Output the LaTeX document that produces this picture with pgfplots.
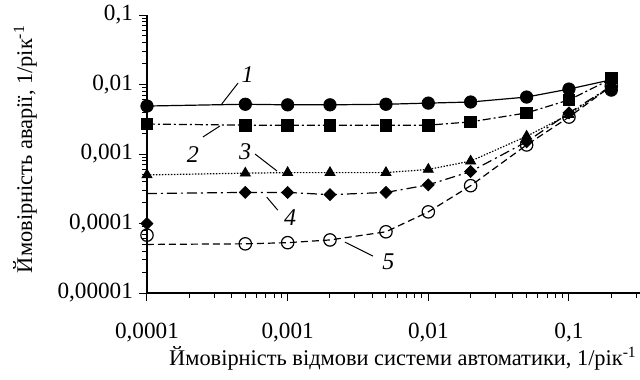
\documentclass[border=0pt]{standalone}
\usepackage{fontspec}
\setmainfont{Liberation Serif}
\usepackage{pgfplots}
\pgfplotsset{compat=1.18}
\begin{document}
\begin{tikzpicture}[font=\fontsize{11.2}{13}\selectfont]
\begin{axis}[
 at={(0pt,0pt)}, anchor=south west,
 scale only axis, width=246.5pt, height=139pt,
 xmode=log, ymode=log,
 xmin=1e-4, xmax=0.32, ymin=1e-5, ymax=0.1,
 axis x line*=bottom, axis y line*=left,
 axis line style={-, line width=0.6pt},
 tick align=outside, major tick length=4pt, minor tick length=2.3pt,
 every tick/.style={black, line width=0.5pt},
 tick label style={font=\fontsize{11.6}{13}\selectfont},
 xtick={1e-4,1e-3,1e-2,1e-1},
 xticklabels={{0,0001},{0,001},{0,01},{0,1}},
 ytick={1e-5,1e-4,1e-3,1e-2,1e-1},
 yticklabels={{0,00001},{0,0001},{0,001},{0,01},{0,1}},
 minor xtick={2e-4,3e-4,4e-4,5e-4,6e-4,7e-4,8e-4,9e-4,2e-3,3e-3,4e-3,5e-3,6e-3,7e-3,8e-3,9e-3,0.02,0.03,0.04,0.05,0.06,0.07,0.08,0.09,0.2,0.3},
 minor ytick={2e-5,3e-5,4e-5,5e-5,6e-5,7e-5,8e-5,9e-5,2e-4,3e-4,4e-4,5e-4,6e-4,7e-4,8e-4,9e-4,2e-3,3e-3,4e-3,5e-3,6e-3,7e-3,8e-3,9e-3,0.02,0.03,0.04,0.05,0.06,0.07,0.08,0.09},
 xticklabel style={yshift=-7.5pt},
 yticklabel style={xshift=0.5pt},
 clip=false,
]
% lines
\addplot[black, line width=0.6pt] coordinates {(1e-4,0.0049)(5e-4,0.0052)(1e-3,0.0051)(2e-3,0.0051)(5e-3,0.0052)(1e-2,0.0054)(2e-2,0.0056)(5e-2,0.0066)(0.1,0.0086)(0.2,0.0117)};
\addplot[black, line width=0.6pt, dash pattern=on 4pt off 1.5pt on 1pt off 1.5pt] coordinates {(1e-4,0.0027)(5e-4,0.0026)(1e-3,0.0026)(2e-3,0.0026)(5e-3,0.0026)(1e-2,0.0026)(2e-2,0.0029)(5e-2,0.0039)(0.1,0.0060)(0.2,0.0120)};
\addplot[black, line width=0.6pt, dash pattern=on 0.7pt off 0.8pt] coordinates {(1e-4,0.00050)(5e-4,0.00053)(1e-3,0.00054)(2e-3,0.00054)(5e-3,0.00054)(1e-2,0.00060)(2e-2,0.00079)(5e-2,0.0018)(0.1,0.0037)(0.2,0.0095)};
\addplot[black, line width=0.6pt, dash pattern=on 5pt off 2pt on 1pt off 2pt] coordinates {(1e-4,0.00027)(5e-4,0.00028)(1e-3,0.00028)(2e-3,0.00026)(5e-3,0.00028)(1e-2,0.00036)(2e-2,0.00056)(5e-2,0.0015)(0.1,0.0039)(0.2,0.0095)};
\addplot[black, line width=0.6pt, dash pattern=on 3.5pt off 2pt] coordinates {(1e-4,0.000050)(5e-4,0.000051)(1e-3,0.000053)(2e-3,0.000058)(5e-3,0.000076)(1e-2,0.000147)(2e-2,0.00035)(5e-2,0.00135)(0.1,0.0034)(0.2,0.0095)};
% marks
\addplot[only marks, mark=*, mark size=3.1pt, black] coordinates {(1e-4,0.0049)(5e-4,0.0052)(1e-3,0.0051)(2e-3,0.0051)(5e-3,0.0052)(1e-2,0.0054)(2e-2,0.0056)(5e-2,0.0066)(0.1,0.0086)(0.2,0.0083)};
\addplot[only marks, mark=square*, mark size=2.9pt, black] coordinates {(1e-4,0.0027)(5e-4,0.0026)(1e-3,0.0026)(2e-3,0.0026)(5e-3,0.0026)(1e-2,0.0026)(2e-2,0.0029)(5e-2,0.0039)(0.1,0.0060)(0.2,0.0124)};
\addplot[only marks, mark=triangle*, mark size=2.9pt, black] coordinates {(1e-4,0.00050)(5e-4,0.00053)(1e-3,0.00054)(2e-3,0.00054)(5e-3,0.00054)(1e-2,0.00060)(2e-2,0.00079)(5e-2,0.0018)(0.1,0.0037)(0.2,0.0095)};
\addplot[only marks, mark=square*, mark options={rotate=45}, mark size=2.1pt, black] coordinates {(1e-4,0.00010)(5e-4,0.00028)(1e-3,0.00028)(2e-3,0.00026)(5e-3,0.00028)(1e-2,0.00036)(2e-2,0.00056)(5e-2,0.0015)(0.1,0.0039)(0.2,0.0095)};
\addplot[only marks, mark=o, mark size=3.1pt, black, mark options={fill=none, line width=0.6pt}] coordinates {(1e-4,0.000068)(5e-4,0.000051)(1e-3,0.000053)(2e-3,0.000058)(5e-3,0.000076)(1e-2,0.000147)(2e-2,0.00035)(5e-2,0.00135)(0.1,0.0034)(0.2,0.0095)};
% curve labels
\node[font=\fontsize{12}{13}\selectfont\itshape] at (axis cs:5.2e-4,0.0137) {1};
\draw[line width=0.5pt] (axis cs:4.44e-4,0.0105) -- (axis cs:3.4e-4,0.00524);
\node[font=\fontsize{12}{13}\selectfont\itshape] at (axis cs:2.12e-4,0.00097) {2};
\draw[line width=0.5pt] (axis cs:2.5e-4,0.00176) -- (axis cs:3.3e-4,0.00253);
\node[font=\fontsize{12}{13}\selectfont\itshape] at (axis cs:4.98e-4,0.00107) {3};
\draw[line width=0.5pt] (axis cs:5.86e-4,0.00100) -- (axis cs:8.4e-4,0.00057);
\node[font=\fontsize{12}{13}\selectfont\itshape] at (axis cs:1.04e-3,0.00012) {4};
\draw[line width=0.5pt] (axis cs:8.5e-4,0.000156) -- (axis cs:7.1e-4,0.00024);
\node[font=\fontsize{12}{13}\selectfont\itshape] at (axis cs:5.2e-3,0.000028) {5};
\draw[line width=0.5pt] (axis cs:4.04e-3,0.000034) -- (axis cs:2.55e-3,0.000054);
\end{axis}
\node[rotate=90] at (-61pt,72pt) {Ймовірність аварії, 1/рік\textsuperscript{-1}};
\node at (128pt,-32.5pt) {Ймовірність відмови системи автоматики, 1/рік\textsuperscript{-1}};
\pgfresetboundingbox
\useasboundingbox (-73.5pt,-43pt) rectangle (246.5pt,146.5pt);
\end{tikzpicture}
\end{document}
